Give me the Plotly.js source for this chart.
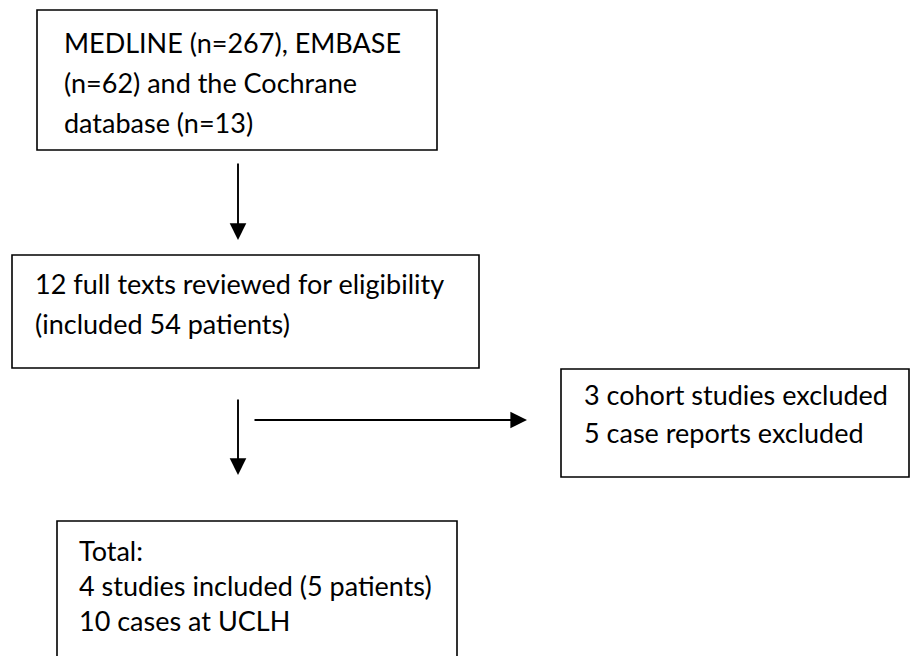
<!DOCTYPE html>
<html>
<head>
<meta charset="utf-8">
<script src="https://cdn.plot.ly/plotly-3.0.1.min.js"></script>
<style>html,body{margin:0;padding:0;background:#fff;}#chart{width:911px;height:656px;}</style>
</head>
<body>
<div id="chart"></div>
<script>
// Flowchart content
var searchLines = ["MEDLINE (n=267), EMBASE", "(n=62) and the Cochrane", "database (n=13)"];
var reviewLines = ["12 full texts reviewed for eligibility", "(included 54 patients)"];
var excludedLines = ["3 cohort studies excluded", "5 case reports excluded"];
var totalLines = ["Total:", "4 studies included (5 patients)", "10 cases at UCLH"];

var FONT = {family: "Lato, 'Open Sans', sans-serif", size: 27, color: "#000"};

// layout geometry (pixels, y down)
var boxes = [
  {x0: 37, x1: 437, y0: 10, y1: 150, tx: 62, ty: 42, dy: 40, lines: searchLines},
  {x0: 12, x1: 479, y0: 255, y1: 368, tx: 33, ty: 283, dy: 40, lines: reviewLines},
  {x0: 561, x1: 909, y0: 369, y1: 477, tx: 582, ty: 394, dy: 38, lines: excludedLines},
  {x0: 57, x1: 457, y0: 521, y1: 662, tx: 77, ty: 550, dy: 35, lines: totalLines}
];
var arrows = [
  {x: 238, y: 240, ax: 238, ay: 162},
  {x: 238, y: 475, ax: 238, ay: 398},
  {x: 527, y: 420, ax: 253, ay: 420}
];

var shapes = boxes.map(function(b){
  return {type: 'rect', xref: 'x', yref: 'y', x0: b.x0, x1: b.x1, y0: b.y0, y1: b.y1,
          line: {color: '#000', width: 1.6}, fillcolor: 'rgba(0,0,0,0)'};
});
var annotations = [];
boxes.forEach(function(b){
  b.lines.forEach(function(t, i){
    annotations.push({x: b.tx, y: b.ty + i*b.dy, xref: 'x', yref: 'y', text: t,
      showarrow: false, xanchor: 'left', yanchor: 'middle', font: FONT});
  });
});
arrows.forEach(function(a){
  annotations.push({x: a.x, y: a.y, ax: a.ax, ay: a.ay, xref: 'x', yref: 'y', axref: 'x', ayref: 'y',
    text: '', showarrow: true, arrowhead: 2, arrowsize: 1.75, arrowwidth: 1.9, arrowcolor: '#000', standoff: 0});
});

var layout = {
  width: 911, height: 656,
  margin: {l: 0, r: 0, t: 0, b: 0},
  paper_bgcolor: '#fff', plot_bgcolor: '#fff',
  xaxis: {range: [0, 911], visible: false, fixedrange: true},
  yaxis: {range: [656, 0], visible: false, fixedrange: true},
  shapes: shapes, annotations: annotations, showlegend: false
};
Plotly.newPlot('chart', [{x: [], y: [], type: 'scatter'}], layout, {staticPlot: true, displayModeBar: false});
</script>
</body>
</html>
